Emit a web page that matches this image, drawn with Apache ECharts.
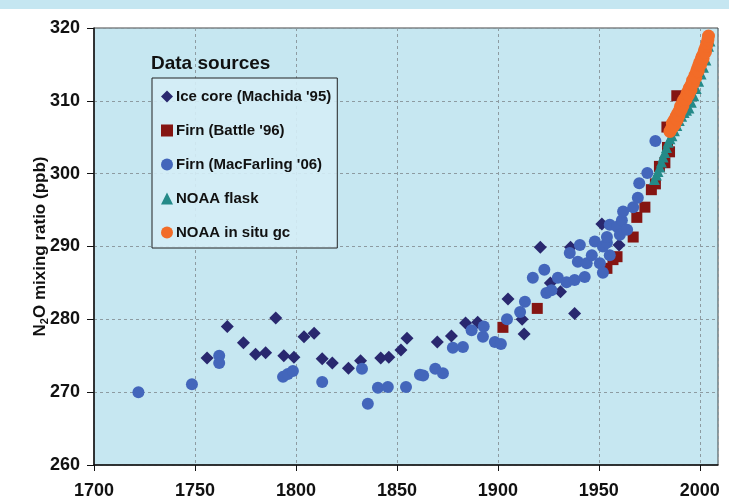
<!DOCTYPE html>
<html>
<head>
<meta charset="utf-8">
<script src="https://cdn.jsdelivr.net/npm/echarts@6/dist/echarts.min.js"></script>
<style>
  html, body { margin: 0; padding: 0; background: #fff; }
  #main { width: 729px; height: 503px; }
</style>
</head>
<body>
<div id="main"></div>
<script>
// N2O 数据 [year, ppb]
var iceCore = [
  [1756, 274.7], [1766, 279.0], [1774, 276.8], [1780, 275.2], [1785, 275.4],
  [1790, 280.2], [1794, 275.0], [1799, 274.8], [1804, 277.6], [1809, 278.1],
  [1813, 274.6], [1818, 274.0], [1826, 273.3], [1832, 274.3], [1842, 274.7],
  [1846, 274.8], [1852, 275.8], [1855, 277.4], [1870, 276.9], [1877, 277.7],
  [1884, 279.5], [1890, 279.6], [1905, 282.8], [1912, 280.0], [1913, 278.0],
  [1921, 289.9], [1926, 285.0], [1931, 283.8], [1936, 289.9], [1938, 280.8],
  [1951.5, 293.1], [1960, 290.2]
];
var firnBattle = [
  [1902.5, 278.9], [1919.5, 281.5], [1954, 287.0], [1957, 288.2], [1959, 288.6],
  [1967, 291.3], [1968.8, 294.0], [1972.8, 295.4], [1976, 297.8], [1978, 298.6],
  [1980, 301.0], [1982.7, 301.5], [1985, 303.0], [1984, 303.6], [1983.7, 306.4],
  [1988.6, 310.7]
];
var firnMacFarling = [
  [1722, 270.0], [1748.5, 271.1], [1762, 275.0], [1762, 274.0], [1793.6, 272.1],
  [1796, 272.5], [1798.5, 272.9], [1813, 271.4], [1832.7, 273.2], [1835.6, 268.4],
  [1840.6, 270.6], [1845.5, 270.7], [1854.5, 270.7], [1861.4, 272.4], [1863, 272.3],
  [1869, 273.2], [1872.8, 272.6], [1877.7, 276.1], [1882.7, 276.2], [1887, 278.5],
  [1892.6, 277.6], [1893, 279.0], [1898.5, 276.9], [1901.5, 276.6], [1904.5, 280.0],
  [1911, 281.0], [1913.4, 282.4], [1917.3, 285.7], [1923, 286.8], [1924, 283.6],
  [1926.5, 284.0], [1929.7, 285.7], [1934, 285.1], [1938, 285.4], [1935.6, 289.1],
  [1939.6, 287.9], [1940.6, 290.2], [1943, 285.8], [1944, 287.7], [1946.5, 288.8],
  [1948, 290.7], [1950.5, 287.7], [1952, 286.4], [1952, 290.0], [1954, 290.5],
  [1954, 291.3], [1955.4, 288.8], [1955.4, 293.0], [1959, 292.7], [1960.4, 291.6],
  [1961.4, 293.6], [1962, 294.8], [1964, 292.3], [1967, 295.4], [1969.3, 296.7],
  [1970, 298.7], [1974, 300.1], [1978, 304.5]
];
var noaaFlask = [
  [1977.5, 299.2], [1978.5, 299.8], [1979.3, 300.3], [1980.2, 300.9], [1981, 301.6],
  [1981.8, 302.3], [1982.6, 302.9], [1983.5, 303.6], [1984.3, 304.3], [1985.2, 304.8],
  [1986.2, 305.2], [1987.4, 305.9], [1988.6, 306.6], [1989.8, 307.3], [1991, 307.9],
  [1992.2, 308.4], [1993.4, 308.7], [1994.6, 309.0], [1995.8, 309.8], [1997, 310.7],
  [1998.2, 311.7], [1999.4, 312.7], [2000.6, 313.7], [2001.8, 314.6], [2003, 315.6],
  [2004.3, 317.5], [2005, 318.2]
];
var noaaInSitu = [
  [1985.2, 305.8], [1986.0, 306.2], [1986.4, 306.9], [1986.8, 306.5], [1987.2, 307.3],
  [1987.6, 306.8], [1988.0, 307.6], [1988.4, 307.9], [1988.8, 307.4], [1989.2, 308.3],
  [1989.6, 308.0], [1990.0, 308.7], [1990.4, 309.2], [1990.8, 308.8], [1991.2, 309.6],
  [1991.6, 309.3], [1992.0, 310.1], [1992.4, 310.0], [1992.8, 310.4], [1993.2, 310.2],
  [1993.6, 310.9], [1994.0, 311.2], [1994.4, 310.8], [1994.8, 311.7], [1995.2, 311.9],
  [1995.6, 311.5], [1996.0, 312.3], [1996.4, 312.8], [1996.8, 312.4], [1997.2, 313.1],
  [1997.6, 313.5], [1998.0, 313.2], [1998.4, 314.0], [1998.8, 314.4], [1999.2, 314.1],
  [1999.6, 314.9], [2000.0, 315.3], [2000.4, 315.0], [2000.8, 315.8], [2001.2, 316.1],
  [2001.6, 315.8], [2002.0, 316.6], [2002.4, 317.0], [2002.8, 316.7], [2003.2, 317.5],
  [2003.6, 317.9], [2004.0, 318.4], [2004.3, 318.9]
];
var seriesNames = ['Ice core (Machida \'95)', 'Firn (Battle \'96)', 'Firn (MacFarling \'06)', 'NOAA flask', 'NOAA in situ gc'];

var chart = echarts.init(document.getElementById('main'));

var labelFont = 'Arial, "Liberation Sans", sans-serif';

var option = {
  backgroundColor: '#fff',
  animation: false,
  graphic: [
    {
      type: 'rect',
      left: 0, top: 0,
      shape: { width: 729, height: 9 },
      style: { fill: '#c5e6f1' },
      silent: true
    }
  ],
  title: {
    text: 'Data sources',
    left: 151,
    top: 54,
    padding: 0,
    textStyle: { fontFamily: labelFont, fontSize: 19, fontWeight: 'bold', color: '#111' }
  },
  grid: {
    left: 94,
    right: 11,
    top: 28,
    bottom: 38,
    show: true,
    backgroundColor: '#c6e7f1',
    borderColor: '#444',
    borderWidth: 1
  },
  legend: {
    orient: 'vertical',
    left: 152,
    top: 78,
    padding: [11, 6, 8, 9],
    itemGap: 19,
    itemWidth: 12,
    itemHeight: 12,
    backgroundColor: 'rgba(212,237,246,0.9)',
    borderColor: '#222',
    borderWidth: 1,
    data: seriesNames,
    textStyle: { fontFamily: labelFont, fontSize: 15, fontWeight: 'bold', color: '#111', padding: [0, 0, 0, -2] }
  },
  xAxis: {
    type: 'value',
    min: 1700,
    max: 2009,
    interval: 50,
    axisLine: { lineStyle: { color: '#111', width: 1.5 } },
    axisTick: { show: true, length: 6, lineStyle: { color: '#111' } },
    axisLabel: {
      showMaxLabel: false,
      margin: 17,
      color: '#111',
      fontFamily: labelFont,
      fontSize: 18,
      fontWeight: 'bold',
      formatter: function (v) { return String(v); }
    },
    splitLine: { show: true, lineStyle: { color: '#8d9ba1', type: [3, 3], width: 1 } }
  },
  yAxis: {
    type: 'value',
    min: 260,
    max: 320,
    interval: 10,
    name: '{n|N}{s|2}{n|O mixing ratio (ppb)}',
    nameLocation: 'middle',
    nameGap: 44,
    nameMoveOverlap: false,
    nameTextStyle: {
      rich: {
        n: { fontFamily: labelFont, fontSize: 17, fontWeight: 'bold', color: '#111' },
        s: { fontFamily: labelFont, fontSize: 11, fontWeight: 'bold', color: '#111', padding: [8, 0, 0, 0] }
      }
    },
    axisLine: { show: true, lineStyle: { color: '#111', width: 1.5 } },
    axisTick: { show: true, length: 7, lineStyle: { color: '#111' } },
    axisLabel: {
      margin: 14,
      color: '#111',
      fontFamily: labelFont,
      fontSize: 18,
      fontWeight: 'bold'
    },
    splitLine: { show: true, lineStyle: { color: '#8d9ba1', type: [3, 3], width: 1 } }
  },
  series: [
    {
      name: seriesNames[0],
      type: 'scatter',
      symbol: 'diamond',
      symbolSize: 13,
      itemStyle: { color: '#29286f', opacity: 1 },
      data: iceCore
    },
    {
      name: seriesNames[1],
      type: 'scatter',
      symbol: 'rect',
      symbolSize: 11,
      itemStyle: { color: '#851512', opacity: 1 },
      data: firnBattle
    },
    {
      name: seriesNames[2],
      type: 'scatter',
      symbol: 'circle',
      symbolSize: 12,
      itemStyle: { color: '#4366bb', opacity: 1 },
      data: firnMacFarling
    },
    {
      name: seriesNames[3],
      type: 'scatter',
      symbol: 'triangle',
      symbolSize: 11,
      itemStyle: { color: '#248a88', opacity: 1 },
      data: noaaFlask
    },
    {
      name: seriesNames[4],
      type: 'scatter',
      symbol: 'circle',
      symbolSize: 13,
      itemStyle: { color: '#f26c28', opacity: 1 },
      data: noaaInSitu
    }
  ]
};
chart.setOption(option);
</script>
</body>
</html>
